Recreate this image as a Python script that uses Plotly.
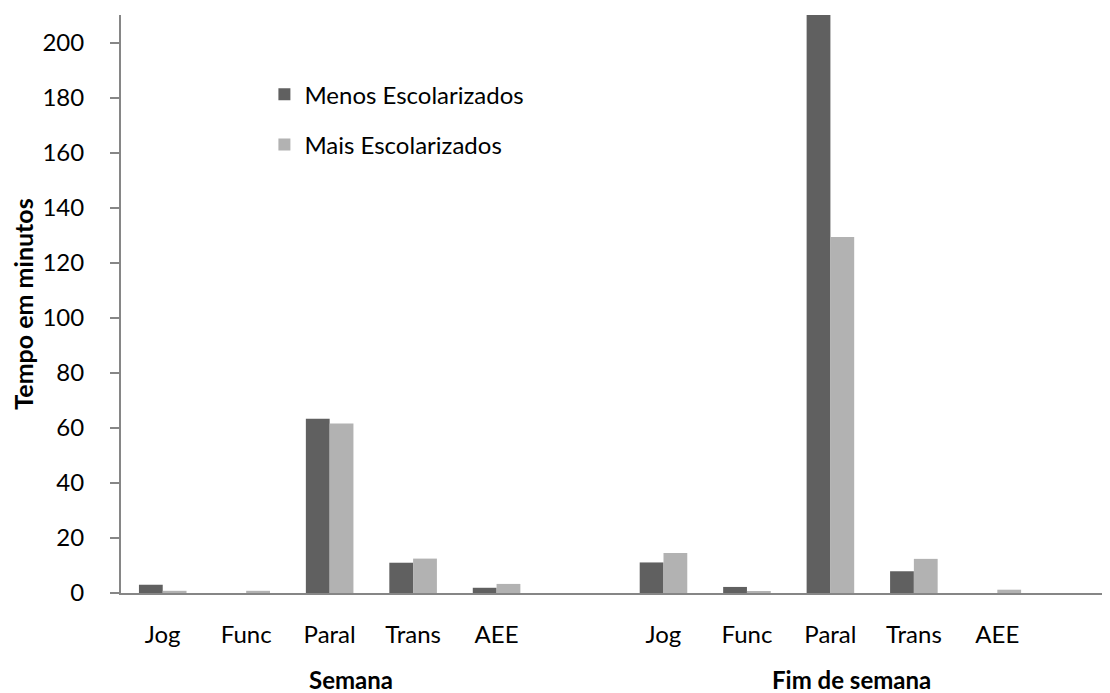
import plotly.graph_objects as go

# categorias (com posições vazias entre os grupos)
categorias = ["Jog", "Func", "Paral", "Trans", "AEE", "",
              "Jog", "Func", "Paral", "Trans", "AEE", ""]
grupos = ["Semana", "Fim de semana"]

menos_escolarizados = [3.0, 0.0, 63.3, 11.0, 1.9, None,
                       11.1, 2.2, 215.0, 7.9, 0.0, None]
mais_escolarizados = [0.8, 0.8, 61.6, 12.5, 3.3, None,
                      14.5, 0.6, 129.3, 12.4, 1.2, None]

x = list(range(len(categorias)))
FONT = "Lato"

fig = go.Figure()
fig.add_trace(go.Bar(x=x, y=menos_escolarizados, name="Menos Escolarizados",
                     marker_color="#606060", marker_line_width=0,
                     legendgroup="a"))
fig.add_trace(go.Bar(x=x, y=mais_escolarizados, name="Mais Escolarizados",
                     marker_color="#b2b2b2", marker_line_width=0,
                     legendgroup="b"))

# rótulos dos grupos, centrados sob cada bloco
for i, g in enumerate(grupos):
    fig.add_annotation(x=2.25 + 6 * i, y=-0.149, xref="x", yref="paper",
                       yanchor="middle",
                       text=f"<b>{g}</b>", showarrow=False,
                       font=dict(family=FONT, size=24, color="black"))

fig.update_layout(
    width=1110, height=693,
    margin=dict(l=102, r=8, t=7, b=108),
    barmode="group", bargap=0.43, bargroupgap=0,
    plot_bgcolor="white", paper_bgcolor="white",
    font=dict(family=FONT, size=24, color="black"),
    legend=dict(x=0.145, y=0.901, xanchor="left", yanchor="top",
                font=dict(size=24), tracegroupgap=16,
                bgcolor="rgba(0,0,0,0)"),
    xaxis=dict(tickmode="array", tickvals=x, ticktext=categorias,
               range=[-0.5, 11.35], showgrid=False, zeroline=False,
               showline=True, linecolor="#868686", linewidth=2,
               ticks="", ticklabelstandoff=19),
    yaxis=dict(range=[0, 210], dtick=20, showgrid=False, zeroline=False,
               showline=True, linecolor="#868686", linewidth=2,
               ticks="outside", ticklen=9, tickcolor="#868686", tickwidth=2,
               ticklabelstandoff=21,
               title=dict(text="<b>Tempo em minutos</b>", standoff=10,
                          font=dict(size=25))),
)

fig.write_html("out.html")
